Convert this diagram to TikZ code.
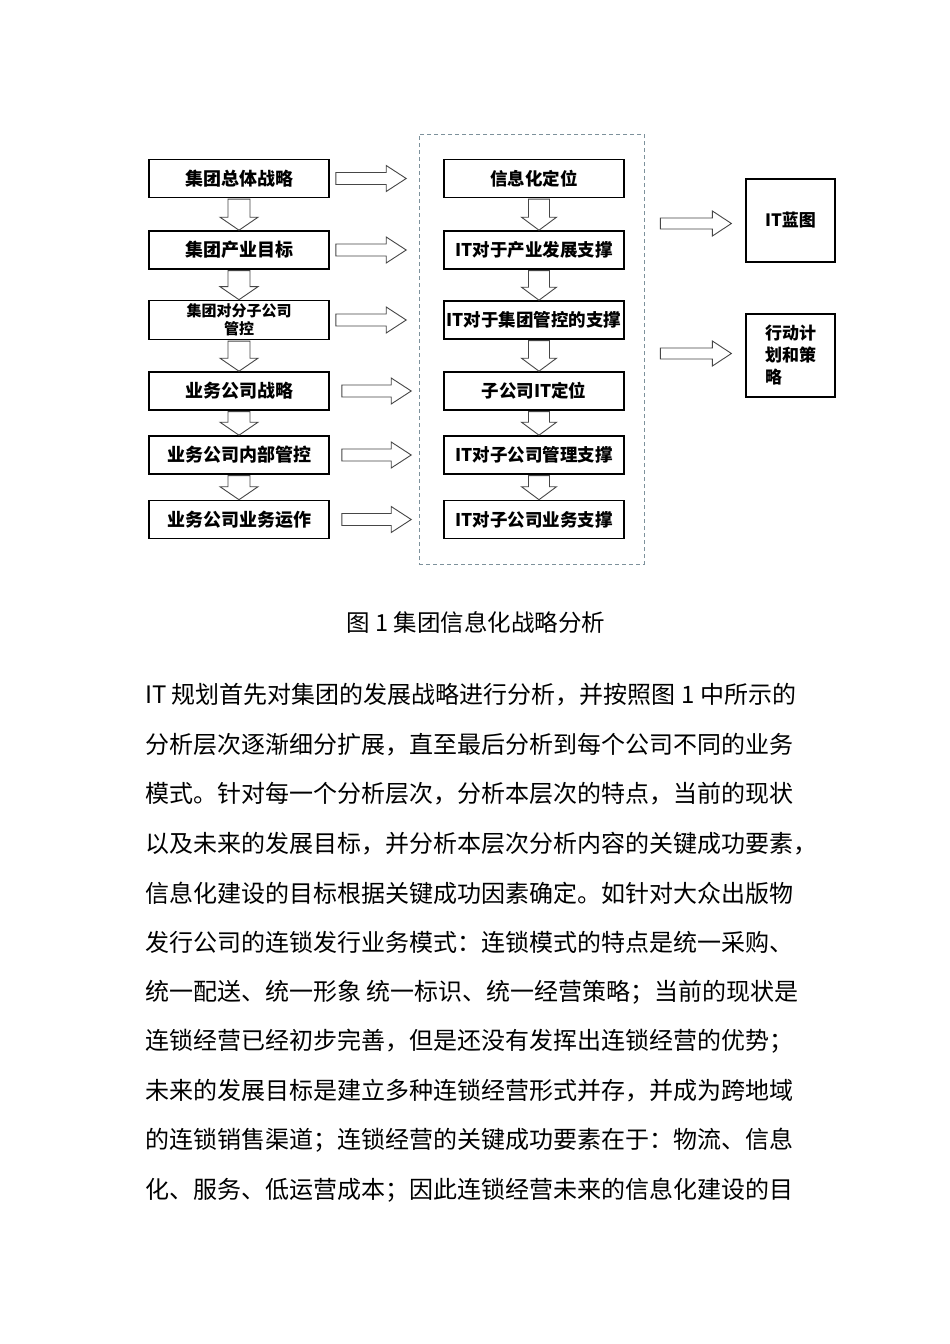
\documentclass[tikz,border=0pt]{standalone}
\usepackage{fontspec}
\setmainfont{Noto Sans CJK SC}
\usetikzlibrary{calc}

\definecolor{framegray}{RGB}{125,145,155}
\definecolor{arrowgray}{RGB}{70,70,70}

\tikzset{
  box/.style={draw, line width=1.6pt, minimum width=180pt, minimum height=38pt,
    inner xsep=1pt, align=center},
  sidebox/.style={draw, line width=1.2pt, minimum width=89pt, minimum height=83pt,
    align=left, font=\fontsize{17}{22}\selectfont\bfseries},
  hollow/.style={draw=arrowgray, line width=0.9pt},
  frame/.style={draw=framegray, dash pattern=on 4pt off 3pt, line width=1pt},
  bodyline/.style={anchor=west, inner sep=0pt, font=\fontsize{24}{24}\selectfont}
}

% hollow block arrows: start, end, shaft half width, head half width, head length
\newcommand{\harrow}[5]{%
  \draw[hollow] let \p1=#1, \p2=#2 in
    (\x1,{\y1+#3pt}) -- ({\x2-#5pt},{\y1+#3pt}) -- ({\x2-#5pt},{\y1+#4pt}) -- (\x2,\y1)
    -- ({\x2-#5pt},{\y1-#4pt}) -- ({\x2-#5pt},{\y1-#3pt}) -- (\x1,{\y1-#3pt}) -- cycle;}
\newcommand{\varrow}[5]{%
  \draw[hollow] let \p1=#1, \p2=#2 in
    ({\x1+#3pt},\y1) -- ({\x1+#3pt},{\y2+#5pt}) -- ({\x1+#4pt},{\y2+#5pt}) -- (\x1,\y2)
    -- ({\x1-#4pt},{\y2+#5pt}) -- ({\x1-#3pt},{\y2+#5pt}) -- ({\x1-#3pt},\y1) -- cycle;}

\begin{document}
\begin{tikzpicture}[x=1pt, y=-1pt]
  \fill[white] (0,0) rectangle (950,1344);
  \useasboundingbox (0,0) rectangle (950,1344);

  \def \Rows {
    1/178.5/18/集团总体战略/信息化定位,
    2/250/18/集团产业目标/IT对于产业发展支撑,
    3/320/15/{集团对分子公司\\管控}/IT对于集团管控的支撑,
    4/391/18/业务公司战略/子公司IT定位,
    5/455/18/业务公司内部管控/IT对子公司管理支撑,
    6/519.5/18/业务公司业务运作/IT对子公司业务支撑}

  \node[frame, minimum width=225pt, minimum height=430pt] (frame) at (531.5,349) {};

  \foreach \id / \y / \fs / \left / \right in \Rows {
    \node[box, font={\fontsize{\fs}{18}\selectfont\bfseries}] (l\id) at (239,\y) {\left};
    \node[box, font={\fontsize{17.5}{18}\selectfont\bfseries}] (m\id) at (534,\y) {\right};
  }

  \node[sidebox] (blueprint) at (790.5,220.5) {IT蓝图};
  \node[sidebox] (plan) at (790.5,355.5) {行动计\\划和策\\略};

  % arrows from the group side to the IT side
  \foreach \id / \a / \b in {1/6/37, 2/6/37, 3/6/37, 4/12/32, 5/12/32, 6/12/32} {
    \harrow{([xshift=\a pt]l\id.east)}{([xshift=-\b pt]m\id.west)}{6}{13}{20}
  }
  \foreach \id / \next in {1/2, 2/3, 3/4, 4/5, 5/6} {
    \varrow{([yshift=-0.8pt]l\id.south)}{(l\next.north)}{11}{19}{13}
    \varrow{([xshift=5pt,yshift=-0.8pt]m\id.south)}{([xshift=5pt]m\next.north)}{10.5}{17.5}{13}
  }

  \harrow{($(blueprint.west)+(-85,3)$)}{($(blueprint.west)+(-14,3)$)}{5.5}{12.5}{19}
  \harrow{($(plan.west)+(-85,-2)$)}{($(plan.west)+(-14,-2)$)}{5.5}{12.5}{19}

  \node[font=\fontsize{23.5}{23.5}\selectfont] (caption) at (476,622) {图 1 集团信息化战略分析};

  \foreach \t [count=\i] in {
    IT 规划首先对集团的发展战略进行分析，并按照图 1 中所示的,
    分析层次逐渐细分扩展，直至最后分析到每个公司不同的业务,
    模式。针对每一个分析层次，分析本层次的特点，当前的现状,
    以及未来的发展目标，并分析本层次分析内容的关键成功要素，,
    信息化建设的目标根据关键成功因素确定。如针对大众出版物,
    发行公司的连锁发行业务模式：连锁模式的特点是统一采购、,
    统一配送、统一形象 统一标识、统一经营策略；当前的现状是,
    连锁经营已经初步完善，但是还没有发挥出连锁经营的优势；,
    未来的发展目标是建立多种连锁经营形式并存，并成为跨地域,
    的连锁销售渠道；连锁经营的关键成功要素在于：物流、信息,
    化、服务、低运营成本；因此连锁经营未来的信息化建设的目} {
    \node[bodyline] (line\i) at (145,{695+49.5*(\i-1)}) {\t};
  }
\end{tikzpicture}
\end{document}
